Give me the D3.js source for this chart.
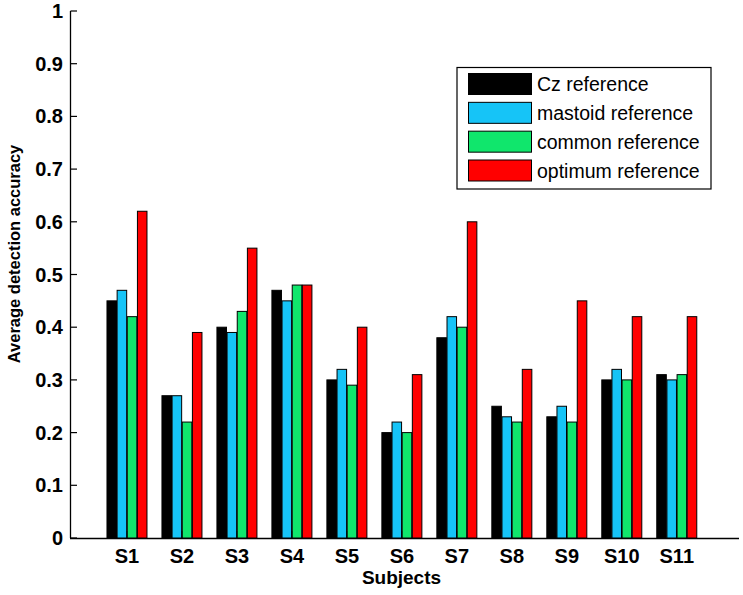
<!DOCTYPE html>
<html>
<head>
<meta charset="utf-8">
<script src="https://cdn.jsdelivr.net/npm/d3@7/dist/d3.min.js"></script>
<style>
  html, body { margin: 0; padding: 0; background: #fff; }
  svg { display: block; font-family: "Liberation Sans", Arial, sans-serif; }
</style>
</head>
<body>
<svg id="chart" width="743" height="595"></svg>
<script>
const subjects = ["S1","S2","S3","S4","S5","S6","S7","S8","S9","S10","S11"];
const seriesNames = ["Cz reference","mastoid reference","common reference","optimum reference"];
const czRef      = [0.45,0.27,0.40,0.47,0.30,0.20,0.38,0.25,0.23,0.30,0.31];
const mastoidRef = [0.47,0.27,0.39,0.45,0.32,0.22,0.42,0.23,0.25,0.32,0.30];
const commonRef  = [0.42,0.22,0.43,0.48,0.29,0.20,0.40,0.22,0.22,0.30,0.31];
const optimumRef = [0.62,0.39,0.55,0.48,0.40,0.31,0.60,0.32,0.45,0.42,0.42];
const yTicks = [0,0.1,0.2,0.3,0.4,0.5,0.6,0.7,0.8,0.9,1];
const colors = ["#000000","#16c4f7","#10e66c","#ff0000"];

const seriesValues = [czRef, mastoidRef, commonRef, optimumRef];
const svg = d3.select("#chart");

const x = d3.scaleLinear().domain([0, 12.15]).range([72, 740]);
const y = d3.scaleLinear().domain([0, 1]).range([538, 11]);
const xSub = d3.scaleBand().domain(d3.range(seriesNames.length)).range([-20, 20]).paddingInner(0.06);

// axes lines
svg.append("line").attr("x1", 70.5).attr("x2", 70.5).attr("y1", y(1)).attr("y2", y(0))
  .attr("stroke", "#000").attr("stroke-width", 1.3);
svg.append("line").attr("x1", 70).attr("x2", 739).attr("y1", y(0)+0.5).attr("y2", y(0)+0.5)
  .attr("stroke", "#000").attr("stroke-width", 1.3);

// y ticks (inward)
const yg = svg.append("g");
yg.selectAll("line").data(yTicks).join("line")
  .attr("x1", 70.5).attr("x2", 77).attr("y1", d => y(d)).attr("y2", d => y(d))
  .attr("stroke", "#000").attr("stroke-width", 1.2);
yg.selectAll("text").data(yTicks).join("text")
  .attr("x", 63).attr("y", d => y(d) + 7)
  .attr("text-anchor", "end").attr("font-weight", "bold").attr("font-size", 20)
  .text(d => d3.format("~g")(d));

// x ticks (inward)
svg.append("g").selectAll("line").data(subjects).join("line")
  .attr("x1", (d,i) => x(i+1)).attr("x2", (d,i) => x(i+1))
  .attr("y1", y(0)).attr("y2", y(0) - 7)
  .attr("stroke", "#000").attr("stroke-width", 1.2);

// bars
const groups = svg.append("g").selectAll("g").data(subjects).join("g")
  .attr("transform", (d,i) => `translate(${x(i+1)},0)`);
groups.selectAll("rect").data((d,i) => seriesValues.map((s,k) => ({k, v: s[i]}))).join("rect")
  .attr("x", d => xSub(d.k))
  .attr("width", xSub.bandwidth())
  .attr("y", d => y(d.v))
  .attr("height", d => y(0) - y(d.v))
  .attr("fill", d => colors[d.k])
  .attr("stroke", "#000").attr("stroke-width", 1);

// x labels
svg.append("g").selectAll("text").data(subjects).join("text")
  .attr("x", (d,i) => x(i+1)).attr("y", 563)
  .attr("text-anchor", "middle").attr("font-weight", "bold").attr("font-size", 20)
  .text(d => d);

svg.append("text").attr("x", 401.5).attr("y", 584)
  .attr("text-anchor", "middle").attr("font-weight", "bold").attr("font-size", 19)
  .text("Subjects");

svg.append("text").attr("transform", "translate(20,254) rotate(-90)")
  .attr("text-anchor", "middle").attr("font-weight", "bold").attr("font-size", 16.5)
  .text("Average detection accuracy");

// legend
const lg = svg.append("g");
lg.append("rect").attr("x", 457).attr("y", 67.5).attr("width", 254).attr("height", 121.5)
  .attr("fill", "#fff").attr("stroke", "#000").attr("stroke-width", 1.2);
const rowY = d3.scaleLinear().domain([0, 3]).range([84, 170.5]);
const items = lg.selectAll("g").data(seriesNames).join("g")
  .attr("transform", (d,i) => `translate(0,${rowY(i)})`);
items.append("rect").attr("x", 468.5).attr("y", -10.5).attr("width", 63).attr("height", 21)
  .attr("fill", (d,i) => colors[i]).attr("stroke", "#000").attr("stroke-width", 1);
items.append("text").attr("x", 537).attr("y", 7).attr("font-size", 19.5)
  .text(d => d);
</script>
</body>
</html>
